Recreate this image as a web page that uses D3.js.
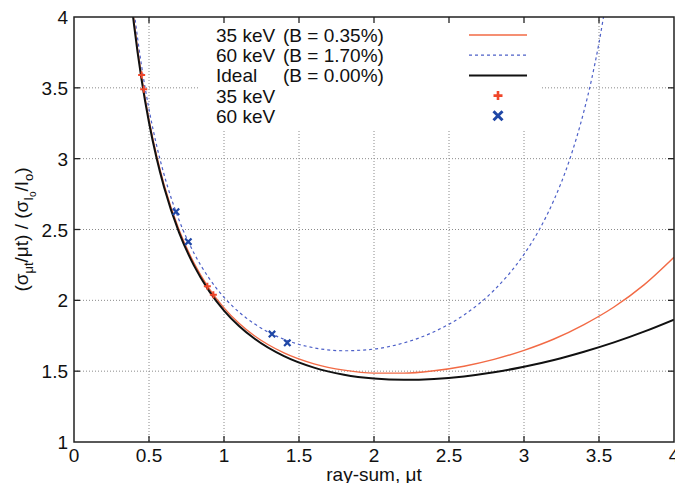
<!DOCTYPE html>
<html>
<head>
<meta charset="utf-8">
<script src="https://cdn.jsdelivr.net/npm/d3@7"></script>
<style>
  body { margin: 0; background: #fff; }
  text { font-family: "Liberation Sans", Arial, sans-serif; fill: #111; }
</style>
</head>
<body>
<div id="chart"></div>
<script>
// values
var xCommon = [0.38, 0.40, 0.45, 0.5, 0.55, 0.6, 0.7, 0.8, 0.9, 1.0, 1.1, 1.2, 1.4, 1.6, 1.8, 2.0, 2.2, 2.4, 2.6, 2.8, 3.0, 3.2, 3.4, 3.6, 3.8, 4.0];
var idealY = [4.129, 3.946, 3.561, 3.255, 3.006, 2.800, 2.480, 2.245, 2.067, 1.928, 1.819, 1.732, 1.606, 1.525, 1.475, 1.448, 1.439, 1.445, 1.463, 1.492, 1.531, 1.579, 1.637, 1.703, 1.779, 1.864];
var kev35Y = [4.150, 3.967, 3.581, 3.274, 3.024, 2.818, 2.498, 2.263, 2.085, 1.947, 1.838, 1.752, 1.629, 1.552, 1.507, 1.486, 1.486, 1.503, 1.535, 1.583, 1.647, 1.727, 1.829, 1.953, 2.109, 2.304];
var x60 = [0.38, 0.40, 0.45, 0.5, 0.55, 0.6, 0.7, 0.8, 0.9, 1.0, 1.1, 1.2, 1.4, 1.6, 1.8, 2.0, 2.2, 2.4, 2.6, 2.8, 3.0, 3.1, 3.2, 3.3, 3.4, 3.45, 3.5, 3.55];
var kev60Y = [4.234, 4.049, 3.658, 3.349, 3.097, 2.890, 2.568, 2.333, 2.157, 2.021, 1.917, 1.836, 1.725, 1.665, 1.644, 1.656, 1.700, 1.778, 1.897, 2.071, 2.325, 2.495, 2.709, 2.980, 3.337, 3.557, 3.818, 4.130];

// measured points
var pts35x = [0.451, 0.465, 0.889, 0.929];
var pts35y = [3.59, 3.49, 2.10, 2.04];
var pts60x = [0.68, 0.762, 1.32, 1.422];
var pts60y = [2.625, 2.414, 1.762, 1.70];

var xTicks = [0, 0.5, 1, 1.5, 2, 2.5, 3, 3.5, 4];
var yTicks = [1, 1.5, 2, 2.5, 3, 3.5, 4];

var legendRows = [
    {name: "35 keV", b: "(B = 0.35%)", type: "line35"},
    {name: "60 keV", b: "(B = 1.70%)", type: "line60"},
    {name: "Ideal", b: "(B = 0.00%)", type: "ideal"},
    {name: "35 keV", b: "", type: "plus"},
    {name: "60 keV", b: "", type: "cross"}
];

var col35 = "#f26a45", col60 = "#4d60c8", colPlus = "#f0462a", colCross = "#1f47a6";

var width = 675, height = 483;
var padL = 74, padR = 674, padT = 17, padB = 442;

var svg = d3.select("#chart").append("svg")
    .attr("width", width)
    .attr("height", height);

var x = d3.scaleLinear().domain([0, 4]).range([padL, padR]);
var y = d3.scaleLinear().domain([1, 4]).range([padB, padT]);

svg.append("clipPath").attr("id", "plotclip")
    .append("rect")
    .attr("x", padL).attr("y", padT)
    .attr("width", padR - padL).attr("height", padB - padT);

// grid lines (dotted)
var grid = svg.append("g");
xTicks.slice(1, -1).forEach(function (t) {
    grid.append("line")
        .attr("x1", x(t)).attr("x2", x(t))
        .attr("y1", padT).attr("y2", padB)
        .attr("stroke", "#8a8a8a").attr("stroke-width", 1)
        .attr("stroke-dasharray", "1,2");
});
yTicks.slice(1, -1).forEach(function (t) {
    grid.append("line")
        .attr("x1", padL).attr("x2", padR)
        .attr("y1", y(t)).attr("y2", y(t))
        .attr("stroke", "#8a8a8a").attr("stroke-width", 1)
        .attr("stroke-dasharray", "1,2");
});

// legend box hides the grid behind it
svg.append("rect")
    .attr("x", 199).attr("y", padT + 1)
    .attr("width", 343).attr("height", 112)
    .attr("fill", "#fff");

// curves
var line = d3.line()
    .x(function (d) { return x(d[0]); })
    .y(function (d) { return y(d[1]); })
    .curve(d3.curveMonotoneX);

var plot = svg.append("g").attr("clip-path", "url(#plotclip)");

plot.append("path")
    .datum(x60.map(function (v, i) { return [v, kev60Y[i]]; }))
    .attr("d", line)
    .attr("fill", "none")
    .attr("stroke", col60)
    .attr("stroke-width", 1.2)
    .attr("stroke-dasharray", "3,3");

plot.append("path")
    .datum(xCommon.map(function (v, i) { return [v, kev35Y[i]]; }))
    .attr("d", line)
    .attr("fill", "none")
    .attr("stroke", col35)
    .attr("stroke-width", 1.4);

plot.append("path")
    .datum(xCommon.map(function (v, i) { return [v, idealY[i]]; }))
    .attr("d", line)
    .attr("fill", "none")
    .attr("stroke", "#111")
    .attr("stroke-width", 2);

function drawPlus(g, cx, cy, s, color, w) {
    g.append("path")
        .attr("d", "M" + (cx - s) + "," + cy + "H" + (cx + s) + "M" + cx + "," + (cy - s) + "V" + (cy + s))
        .attr("stroke", color).attr("stroke-width", w).attr("fill", "none");
}
function drawCross(g, cx, cy, s, color, w) {
    g.append("path")
        .attr("d", "M" + (cx - s) + "," + (cy - s) + "L" + (cx + s) + "," + (cy + s) +
            "M" + (cx - s) + "," + (cy + s) + "L" + (cx + s) + "," + (cy - s))
        .attr("stroke", color).attr("stroke-width", w).attr("fill", "none");
}

pts35x.forEach(function (v, i) {
    drawPlus(plot, x(v), y(pts35y[i]), 3.5, colPlus, 2);
});
pts60x.forEach(function (v, i) {
    drawCross(plot, x(v), y(pts60y[i]), 3.2, colCross, 2.2);
});

// frame and inward ticks on all sides
svg.append("rect")
    .attr("x", padL).attr("y", padT)
    .attr("width", padR - padL).attr("height", padB - padT)
    .attr("fill", "none").attr("stroke", "#222").attr("stroke-width", 1.5);

var ticks = svg.append("g").attr("stroke", "#222").attr("stroke-width", 1.3);
xTicks.slice(1, -1).forEach(function (t) {
    ticks.append("line").attr("x1", x(t)).attr("x2", x(t)).attr("y1", padB).attr("y2", padB - 6);
    ticks.append("line").attr("x1", x(t)).attr("x2", x(t)).attr("y1", padT).attr("y2", padT + 6);
});
yTicks.slice(1, -1).forEach(function (t) {
    ticks.append("line").attr("x1", padL).attr("x2", padL + 6).attr("y1", y(t)).attr("y2", y(t));
    ticks.append("line").attr("x1", padR).attr("x2", padR - 6).attr("y1", y(t)).attr("y2", y(t));
});

// tick labels
svg.append("g").selectAll("text")
    .data(xTicks).enter().append("text")
    .attr("x", function (d) { return x(d); })
    .attr("y", padB + 20)
    .attr("text-anchor", "middle")
    .attr("font-size", "19px")
    .text(function (d) { return d; });

svg.append("g").selectAll("text")
    .data(yTicks).enter().append("text")
    .attr("x", padL - 6)
    .attr("y", function (d) { return y(d) + 7; })
    .attr("text-anchor", "end")
    .attr("font-size", "19px")
    .text(function (d) { return d; });

// axis titles
svg.append("text")
    .attr("x", (padL + padR) / 2)
    .attr("y", 481)
    .attr("text-anchor", "middle")
    .attr("font-size", "19px")
    .text("ray-sum, \u03bct");

var yl = svg.append("text")
    .attr("transform", "translate(28," + ((padT + padB) / 2) + ") rotate(-90)")
    .attr("text-anchor", "middle")
    .attr("font-size", "19px");
yl.append("tspan").text("(\u03c3");
yl.append("tspan").attr("font-size", "13px").attr("dy", 5).text("\u03bct");
yl.append("tspan").attr("dy", -5).text("/\u03bct) / (\u03c3");
yl.append("tspan").attr("font-size", "13px").attr("dy", 5).text("I");
yl.append("tspan").attr("font-size", "10px").attr("dy", 3).text("o");
yl.append("tspan").attr("dy", -8).text("/I");
yl.append("tspan").attr("font-size", "13px").attr("dy", 5).text("o");
yl.append("tspan").attr("dy", -5).text(")");

// legend
var leg = svg.append("g");
legendRows.forEach(function (r, i) {
    var cy = 35 + i * 20.2;
    leg.append("text").attr("x", 216).attr("y", cy + 7).attr("font-size", "19px").text(r.name);
    if (r.b) {
        leg.append("text").attr("x", 283).attr("y", cy + 7).attr("font-size", "19px").text(r.b);
    }
    if (r.type == "line35") {
        leg.append("line").attr("x1", 469).attr("x2", 527).attr("y1", cy).attr("y2", cy)
            .attr("stroke", col35).attr("stroke-width", 1.4);
    } else if (r.type == "line60") {
        leg.append("line").attr("x1", 469).attr("x2", 527).attr("y1", cy).attr("y2", cy)
            .attr("stroke", col60).attr("stroke-width", 1.2).attr("stroke-dasharray", "3,3");
    } else if (r.type == "ideal") {
        leg.append("line").attr("x1", 469).attr("x2", 527).attr("y1", cy).attr("y2", cy)
            .attr("stroke", "#111").attr("stroke-width", 2);
    } else if (r.type == "plus") {
        drawPlus(leg, 498, cy, 4.5, colPlus, 2.6);
    } else {
        drawCross(leg, 498, cy, 4.5, colCross, 3);
    }
});
</script>
</body>
</html>
